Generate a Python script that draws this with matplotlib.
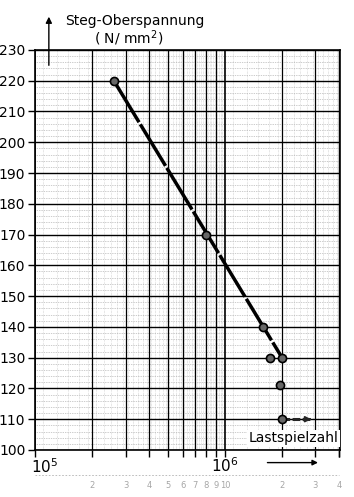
import numpy as np
import matplotlib
matplotlib.use("Agg")
import matplotlib.pyplot as plt
from matplotlib.ticker import FixedLocator, NullFormatter

# Data
line_x = [2.6e5, 2.0e6]
line_y = [220, 130]
pts_x = [2.6e5, 8.0e5, 1.58e6, 1.72e6, 2.0e6, 1.95e6, 2.0e6]
pts_y = [220, 170, 140, 130, 130, 121, 110]
runout_x = [2.0e6, 2.8e6]
runout_y = [110, 110]
y_ticks = list(range(100, 231, 10))
x_grid = [m * 10**e for e in (5, 6) for m in range(1, 10)] + [4e6]
x_grid = [v for v in x_grid if v <= 4e6]
sub_labels = ["2", "3", "4", "5", "6", "7", "8", "9", "10", "2", "3", "4"]
sub_pos = [2e5, 3e5, 4e5, 5e5, 6e5, 7e5, 8e5, 9e5, 1e6, 2e6, 3e6, 4e6]

fig = plt.figure(figsize=(3.54, 4.97), dpi=100)
ax = fig.add_axes([0.099, 0.0946, 0.862, 0.805])
ax.set_xscale("log")
ax.set_xlim(1e5, 4.05e6)
ax.set_ylim(100, 230)

# minor grid (graph paper)
for yv in np.arange(100, 231, 2):
    if yv % 10:
        ax.axhline(yv, color="0.6", lw=0.5, ls=(0, (1, 1.5)), zorder=0)
minor_x = [m * 10**e for e in (5, 6) for m in np.arange(1.1, 10, 0.2)]
for xv in minor_x:
    if xv < 4e6:
        ax.axvline(xv, color="0.7", lw=0.4, ls=(0, (1, 1.5)), zorder=0)

# major grid
for yv in y_ticks:
    ax.axhline(yv, color="black", lw=1.0, zorder=1)
for xv in x_grid:
    lw = 1.2 if xv in (1e5, 1e6) else 0.9
    ax.axvline(xv, color="black", lw=lw, zorder=1)

ax.plot(line_x, line_y, color="black", lw=2.5, ls=(0, (14, 0.7)), zorder=3)
ax.plot(runout_x, runout_y, color="0.15", lw=2.2, ls=(0, (2.5, 0.8)), zorder=3)
ax.annotate("", xy=(2.95e6, 110), xytext=(2.7e6, 110),
            arrowprops=dict(arrowstyle="-|>", color="0.15", lw=1.4, mutation_scale=8), zorder=3)
ax.scatter(pts_x, pts_y, s=34, facecolor="0.4", edgecolor="black", lw=1.2, zorder=4)

ax.set_yticks(y_ticks)
ax.set_yticklabels([str(v) for v in y_ticks], fontsize=10)
ax.xaxis.set_major_locator(FixedLocator(x_grid))
ax.xaxis.set_major_formatter(NullFormatter())
ax.xaxis.set_minor_formatter(NullFormatter())
ax.tick_params(axis="x", which="major", direction="out", length=5, width=1)
ax.tick_params(axis="x", which="minor", length=0)
ax.tick_params(axis="y", direction="out", length=5, width=1, pad=2)
for s in ax.spines.values():
    s.set_linewidth(1.2)

# decade labels
ax.text(1.12e5, 97.6, r"$10^5$", fontsize=11, ha="center", va="top")
ax.text(1.0e6, 97.8, r"$10^6$", fontsize=11, ha="center", va="top")
ax.annotate("", xy=(3.2e6, 95.9), xytext=(1.62e6, 95.9),
            arrowprops=dict(arrowstyle="-|>", color="black", lw=1, mutation_scale=8),
            annotation_clip=False)
for p, l in zip(sub_pos, sub_labels):
    ax.text(p, 88.4, l, fontsize=6, color="0.65", ha="center", va="center")
ax.plot([1e5, 4e6], [91.8, 91.8], color="0.7", lw=0.6, ls=(0, (2, 2)), clip_on=False)

ax.text(3.95e6, 103.8, "Lastspielzahl", fontsize=10, ha="right", va="center",
        bbox=dict(facecolor="white", edgecolor="none", pad=1), zorder=5)

# y-axis title
fig.text(0.183, 0.957, "Steg-Oberspannung", fontsize=10, ha="left", va="center")
fig.text(0.362, 0.924, r"( N/ mm$^2$)", fontsize=10, ha="center", va="center")
ax.annotate("", xy=(0.138, 0.972), xytext=(0.138, 0.863), xycoords="figure fraction",
            textcoords="figure fraction",
            arrowprops=dict(arrowstyle="-|>", color="black", lw=1, mutation_scale=9))

fig.savefig("out.png", dpi=100)
